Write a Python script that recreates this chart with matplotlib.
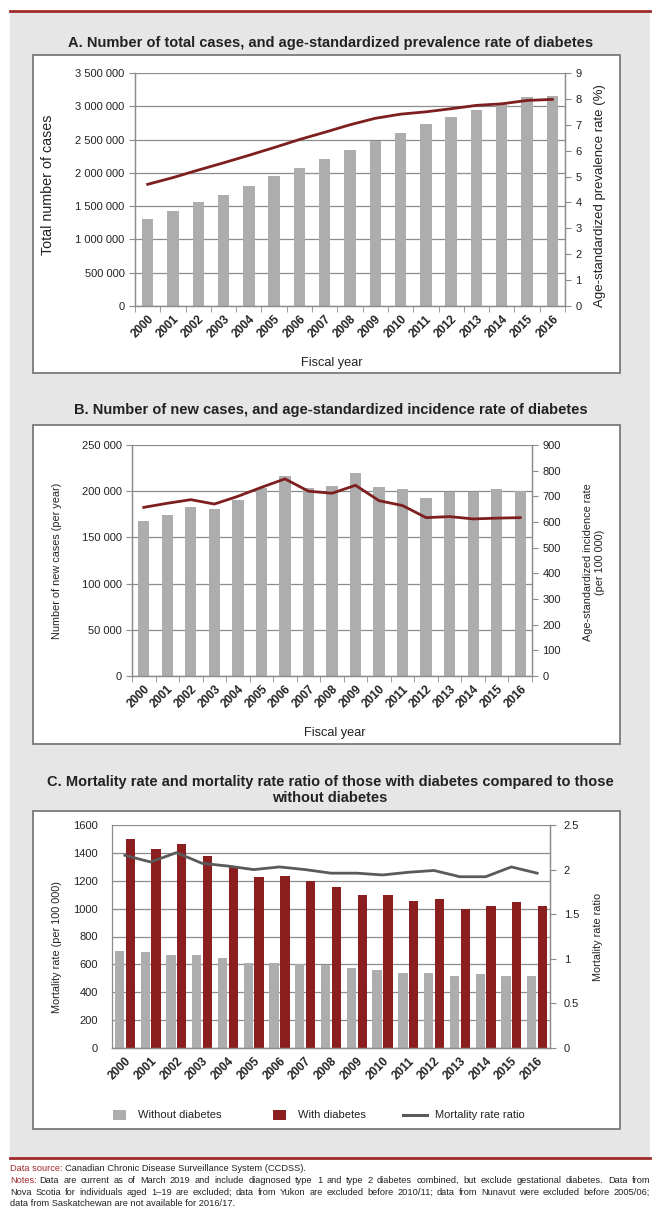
import matplotlib
matplotlib.use("Agg")
import matplotlib.pyplot as plt
from matplotlib import font_manager
from matplotlib.patches import Rectangle
from matplotlib.lines import Line2D
from matplotlib.ticker import FuncFormatter, FixedLocator
from matplotlib.transforms import ScaledTranslation
import numpy as np

installed = {f.name for f in font_manager.fontManager.ttflist}
NARROW = 'Liberation Sans Narrow' in installed
plt.rcParams['font.family'] = ['Liberation Sans Narrow' if NARROW else 'Liberation Sans', 'DejaVu Sans']

years = [str(y) for y in range(2000, 2017)]

# A. total cases and prevalence (%)
total_cases = [1300000, 1420000, 1560000, 1660000, 1800000, 1950000, 2080000, 2210000,
               2340000, 2480000, 2600000, 2730000, 2840000, 2940000, 3030000, 3140000, 3160000]
prevalence = [4.70, 4.96, 5.25, 5.53, 5.82, 6.12, 6.43, 6.71, 7.00, 7.25, 7.41, 7.50,
              7.62, 7.75, 7.81, 7.94, 7.98]

# B. new cases and incidence rate (per 100 000)
new_cases = [168000, 173800, 182400, 180300, 191000, 204000, 216000, 204000, 205500,
             219700, 205000, 202000, 192700, 198800, 198800, 202000, 199800]
incidence = [657, 673, 687, 670, 700, 735, 768, 720, 712, 743, 683, 664, 617, 621, 612, 615, 617]

# C. mortality rates (per 100 000) and ratio
mort_without = [698, 689, 665, 665, 646, 613, 613, 603, 594, 573, 562, 538, 538, 519, 528, 519, 519]
mort_with = [1499, 1428, 1461, 1380, 1305, 1228, 1237, 1197, 1156, 1100, 1097, 1055, 1069,
             1000, 1017, 1045, 1017]
mort_ratio = [2.16, 2.085, 2.19, 2.07, 2.04, 2.00, 2.03, 2.00, 1.96, 1.96, 1.94, 1.97, 1.99,
              1.92, 1.92, 2.03, 1.96]

GREY_BAR = '#ADADAD'
DARK_RED = '#7D1F1F'
BAR_RED = '#8B1E1E'
RATIO_GREY = '#5A5A5A'
GRID = '#8C8C8C'
RULE_RED = '#9E2A2B'
TXT = '#222222'

W, H = 660, 1227
fig = plt.figure(figsize=(6.6, 12.27), dpi=100)


def fx(px):
    return px / W


def fy(py):
    return 1 - py / H


def add_axes(l, t, r, b):
    return fig.add_axes([fx(l), fy(b), (r - l) / W, (b - t) / H])


# background panel, rules and white boxes (behind the axes)
fig.add_artist(Rectangle((fx(10), fy(1157)), (650 - 10) / W, (1157 - 12) / H,
                         transform=fig.transFigure, facecolor='#E6E6E6', edgecolor='none', zorder=-3))
for ypx in (11, 1158):
    fig.add_artist(Line2D([fx(10), fx(650)], [fy(ypx), fy(ypx)], color=RULE_RED, lw=2,
                          transform=fig.transFigure, zorder=-1))
for (t, b) in ((55, 373), (425, 744), (811, 1129)):
    fig.add_artist(Rectangle((fx(33), fy(b)), (620 - 33) / W, (b - t) / H,
                             transform=fig.transFigure, facecolor='white',
                             edgecolor='#7A7A7A', lw=1.3, zorder=-2))

space_fmt = FuncFormatter(lambda v, p: f"{int(v):,}".replace(",", " "))
x = np.arange(len(years))
tick_fs = 8.0
shift = ScaledTranslation(4 / 100, 0, fig.dpi_scale_trans)


def style_axes(ax, ax2, boundary_ticks=True):
    ax.set_xlim(-0.5, len(years) - 0.5)
    ax.set_axisbelow(True)
    ax.yaxis.grid(True, color=GRID, lw=0.9)
    for a in (ax, ax2):
        for s in a.spines.values():
            s.set_color(GRID)
            s.set_linewidth(0.9)
        a.spines['top'].set_visible(False)
    ax.set_xticks(x)
    ax.set_xticklabels(years, rotation=45, ha='right', rotation_mode='anchor',
                       fontsize=8.5, fontweight='bold', color=TXT)
    for lab in ax.get_xticklabels():
        lab.set_transform(lab.get_transform() + shift)
    ax.tick_params(axis='x', length=0, pad=5)
    if boundary_ticks:
        ax.xaxis.set_minor_locator(FixedLocator(np.arange(-0.5, len(years), 1)))
        ax.tick_params(axis='x', which='minor', length=4, color=GRID)
    ax.tick_params(axis='y', length=4, color=GRID, labelsize=tick_fs, labelcolor=TXT)
    ax2.tick_params(axis='y', length=4, color=GRID, labelsize=tick_fs, labelcolor=TXT)


def place_label(axis, text, fs, cx, cy):
    axis.set_label_text(text, fontsize=fs, color=TXT)
    axis.set_label_coords(cx, cy)
    axis.label.set_ha('center')
    axis.label.set_va('center')


title_fs = 10.5

# ---- A ----
fig.text(fx(331), fy(43), "A. Number of total cases, and age-standardized prevalence rate of diabetes",
         ha='center', va='center', fontsize=title_fs, fontweight='bold', color=TXT)
axA = add_axes(135, 73, 565, 306)
axA.bar(x, total_cases, width=0.45, color=GREY_BAR)
axA.set_ylim(0, 3500000)
axA.set_yticks(np.arange(0, 3500001, 500000))
axA.yaxis.set_major_formatter(space_fmt)
axA2 = axA.twinx()
axA2.plot(x, prevalence, color=DARK_RED, lw=2)
axA2.set_ylim(0, 9)
axA2.set_yticks(range(0, 10))
style_axes(axA, axA2)
place_label(axA.yaxis, "Total number of cases", 10.3, -0.202, 0.519)
place_label(axA2.yaxis, "Age-standardized prevalence rate (%)", 9.5, 1.081, 0.476)
place_label(axA.xaxis, "Fiscal year", 9.2, 0.458, -0.245)

# ---- B ----
fig.text(fx(331), fy(410), "B. Number of new cases, and age-standardized incidence rate of diabetes",
         ha='center', va='center', fontsize=title_fs, fontweight='bold', color=TXT)
axB = add_axes(132, 445, 532, 676)
axB.bar(x, new_cases, width=0.48, color=GREY_BAR)
axB.set_ylim(0, 250000)
axB.set_yticks(np.arange(0, 250001, 50000))
axB.yaxis.set_major_formatter(space_fmt)
axB2 = axB.twinx()
axB2.plot(x, incidence, color=DARK_RED, lw=2)
axB2.set_ylim(0, 900)
axB2.set_yticks(range(0, 901, 100))
style_axes(axB, axB2)
place_label(axB.yaxis, "Number of new cases (per year)", 7.8, -0.1875, 0.498)
place_label(axB2.yaxis, "Age-standardized incidence rate\n(per 100 000)", 7.8, 1.155, 0.494)
place_label(axB.xaxis, "Fiscal year", 9.2, 0.5075, -0.247)

# ---- C ----
fig.text(fx(330), fy(782), "C. Mortality rate and mortality rate ratio of those with diabetes compared to those",
         ha='center', va='center', fontsize=title_fs, fontweight='bold', color=TXT)
fig.text(fx(330), fy(798), "without diabetes",
         ha='center', va='center', fontsize=title_fs, fontweight='bold', color=TXT)
axC = add_axes(112, 825, 550, 1048)
axC.bar(x - 0.21, mort_without, width=0.36, color=GREY_BAR)
axC.bar(x + 0.21, mort_with, width=0.36, color=BAR_RED)
axC.set_ylim(0, 1600)
axC.set_yticks(range(0, 1601, 200))
axC2 = axC.twinx()
axC2.plot(x, mort_ratio, color=RATIO_GREY, lw=2)
axC2.set_ylim(0, 2.5)
axC2.set_yticks(np.arange(0, 2.51, 0.5))
axC2.yaxis.set_major_formatter(FuncFormatter(lambda v, p: f"{v:g}"))
style_axes(axC, axC2, boundary_ticks=False)
axC.spines['left'].set_visible(False)
axC.tick_params(axis='y', length=0, pad=10)
axC2.tick_params(axis='y', pad=6)
place_label(axC.yaxis, "Mortality rate (per 100 000)", 7.8, -0.1256, 0.453)
place_label(axC2.yaxis, "Mortality rate ratio", 7.8, 1.1096, 0.498)

# legend for C, laid out like the original
leg_y = 1115
leg_fs = 8.0
for x0, col in ((113, GREY_BAR), (273, BAR_RED)):
    fig.add_artist(Rectangle((fx(x0), fy(leg_y + 5)), 13 / W, 10 / H, transform=fig.transFigure,
                             facecolor=col, edgecolor='none'))
fig.add_artist(Line2D([fx(403), fx(427)], [fy(leg_y), fy(leg_y)], color=RATIO_GREY, lw=2.2,
                      transform=fig.transFigure))
for x0, lab in ((138, "Without diabetes"), (298, "With diabetes"), (435, "Mortality rate ratio")):
    fig.text(fx(x0), fy(leg_y), lab, fontsize=leg_fs, color=TXT, ha='left', va='center')

# ---- footer ----
fs = 6.7
fig.canvas.draw()
renderer = fig.canvas.get_renderer()


def text_width(s):
    t = fig.text(0, 0, s, fontsize=fs)
    w = t.get_window_extent(renderer=renderer).width
    t.remove()
    return w


def footer_line(ypx, body, head=None, justify=False, left=10, right=650):
    base = fy(ypx + 3)
    xpos = left
    if head:
        fig.text(fx(xpos), base, head, color=RULE_RED, fontsize=fs, va='baseline', ha='left')
        xpos += text_width(head) + text_width("a a") - text_width("aa")
    if not justify:
        fig.text(fx(xpos), base, body, color=TXT, fontsize=fs, va='baseline', ha='left')
        return
    words = body.split(" ")
    widths = [text_width(w) for w in words]
    gap = (right - xpos - sum(widths)) / (len(words) - 1)
    for w, wd in zip(words, widths):
        fig.text(fx(xpos), base, w, color=TXT, fontsize=fs, va='baseline', ha='left')
        xpos += wd + gap


footer_line(1168, "Canadian Chronic Disease Surveillance System (CCDSS).", head="Data source:")
footer_line(1180, "Data are current as of March 2019 and include diagnosed type 1 and type 2 diabetes combined, "
            "but exclude gestational diabetes. Data from", head="Notes:", justify=True)
footer_line(1192, "Nova Scotia for individuals aged 1\u201319 are excluded; data from Yukon are excluded before 2010/11; "
            "data from Nunavut were excluded before 2005/06;", justify=True)
footer_line(1203, "data from Saskatchewan are not available for 2016/17.")

fig.savefig("out.png", dpi=100)
